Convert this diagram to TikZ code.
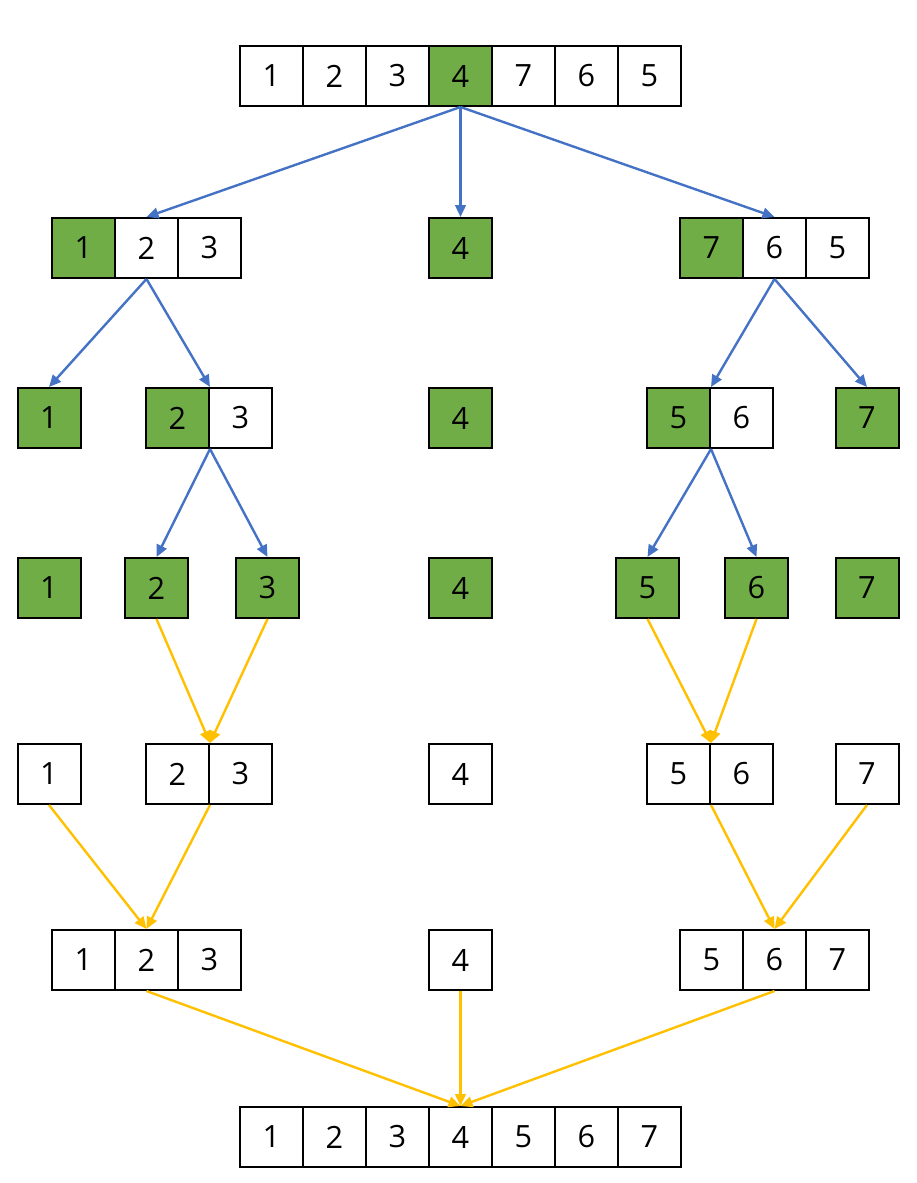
\documentclass[tikz,border=0pt]{standalone}
\usepackage{fontspec}
\setmainfont{Open Sans}
\usetikzlibrary{arrows.meta}
\definecolor{pivotgreen}{HTML}{70AD47}
\definecolor{splitblue}{HTML}{4472C4}
\definecolor{mergeyellow}{HTML}{FFC000}
\begin{document}
\begin{tikzpicture}[x=0.75pt,y=-0.75pt,
  cell/.style={draw=black,line width=1.5pt,fill=white,minimum width=47.25pt,
    minimum height=45pt,inner sep=0pt,font=\fontsize{23}{27}\selectfont},
  piv/.style={cell,fill=pivotgreen},
  split/.style={draw=splitblue,line width=1.8pt,-{Triangle[length=9pt,width=8pt]}},
  merge/.style={draw=mergeyellow,line width=1.8pt,-{Triangle[length=9pt,width=8pt]}}]
\useasboundingbox (0,0) rectangle (917,1183);

% row 1: whole array, pivot 4
\node[cell] (a1) at (271.5,76) {1};
\node[cell] (a2) at (334.5,76) {2};
\node[cell] (a3) at (397.5,76) {3};
\node[piv]  (a4) at (460.5,76) {4};
\node[cell] (a5) at (523.5,76) {7};
\node[cell] (a6) at (586.5,76) {6};
\node[cell] (a7) at (649.5,76) {5};

% row 2
\node[piv]  (b1) at (83.5,248) {1};
\node[cell] (b2) at (146.5,248) {2};
\node[cell] (b3) at (209.5,248) {3};
\node[piv]  (b4) at (460.5,248) {4};
\node[piv]  (b5) at (711.5,248) {7};
\node[cell] (b6) at (774.5,248) {6};
\node[cell] (b7) at (837.5,248) {5};

% row 3
\node[piv]  (c1) at (49,418) {1};
\node[piv]  (c2) at (177.5,418) {2};
\node[cell] (c3) at (240.5,418) {3};
\node[piv]  (c4) at (460.5,418) {4};
\node[piv]  (c5) at (678.5,418) {5};
\node[cell] (c6) at (741.5,418) {6};
\node[piv]  (c7) at (867,418) {7};

% row 4
\node[piv] (d1) at (49,588) {1};
\node[piv] (d2) at (156.5,588) {2};
\node[piv] (d3) at (267.5,588) {3};
\node[piv] (d4) at (460.5,588) {4};
\node[piv] (d5) at (647.5,588) {5};
\node[piv] (d6) at (756.5,588) {6};
\node[piv] (d7) at (867,588) {7};

% row 5
\node[cell] (e1) at (49,774) {1};
\node[cell] (e2) at (177.5,774) {2};
\node[cell] (e3) at (240.5,774) {3};
\node[cell] (e4) at (460.5,774) {4};
\node[cell] (e5) at (678.5,774) {5};
\node[cell] (e6) at (741.5,774) {6};
\node[cell] (e7) at (867,774) {7};

% row 6
\node[cell] (f1) at (83.5,960) {1};
\node[cell] (f2) at (146.5,960) {2};
\node[cell] (f3) at (209.5,960) {3};
\node[cell] (f4) at (460.5,960) {4};
\node[cell] (f5) at (711.5,960) {5};
\node[cell] (f6) at (774.5,960) {6};
\node[cell] (f7) at (837.5,960) {7};

% row 7: sorted result
\node[cell] (g1) at (271.5,1137) {1};
\node[cell] (g2) at (334.5,1137) {2};
\node[cell] (g3) at (397.5,1137) {3};
\node[cell] (g4) at (460.5,1137) {4};
\node[cell] (g5) at (523.5,1137) {5};
\node[cell] (g6) at (586.5,1137) {6};
\node[cell] (g7) at (649.5,1137) {7};

% partition steps
\draw[split] (a4.south) -- (b2.north);
\draw[split] (a4.south) -- (b4.north);
\draw[split] (a4.south) -- (b6.north);
\draw[split] (b2.south) -- (c1.north);
\draw[split] (b2.south) -- (c2.north east);
\draw[split] (b6.south) -- (c5.north east);
\draw[split] (b6.south) -- (c7.north);
\draw[split] (c2.south east) -- (d2.north);
\draw[split] (c2.south east) -- (d3.north);
\draw[split] (c5.south east) -- (d5.north);
\draw[split] (c5.south east) -- (d6.north);

% combine steps
\draw[merge] (d2.south) -- (e2.north east);
\draw[merge] (d3.south) -- (e2.north east);
\draw[merge] (d5.south) -- (e5.north east);
\draw[merge] (d6.south) -- (e5.north east);
\draw[merge] (e1.south) -- (f2.north);
\draw[merge] (e2.south east) -- (f2.north);
\draw[merge] (e5.south east) -- (f6.north);
\draw[merge] (e7.south) -- (f6.north);
\draw[merge] (f2.south) -- (g4.north);
\draw[merge] (f4.south) -- (g4.north);
\draw[merge] (f6.south) -- (g4.north);
\end{tikzpicture}
\end{document}
